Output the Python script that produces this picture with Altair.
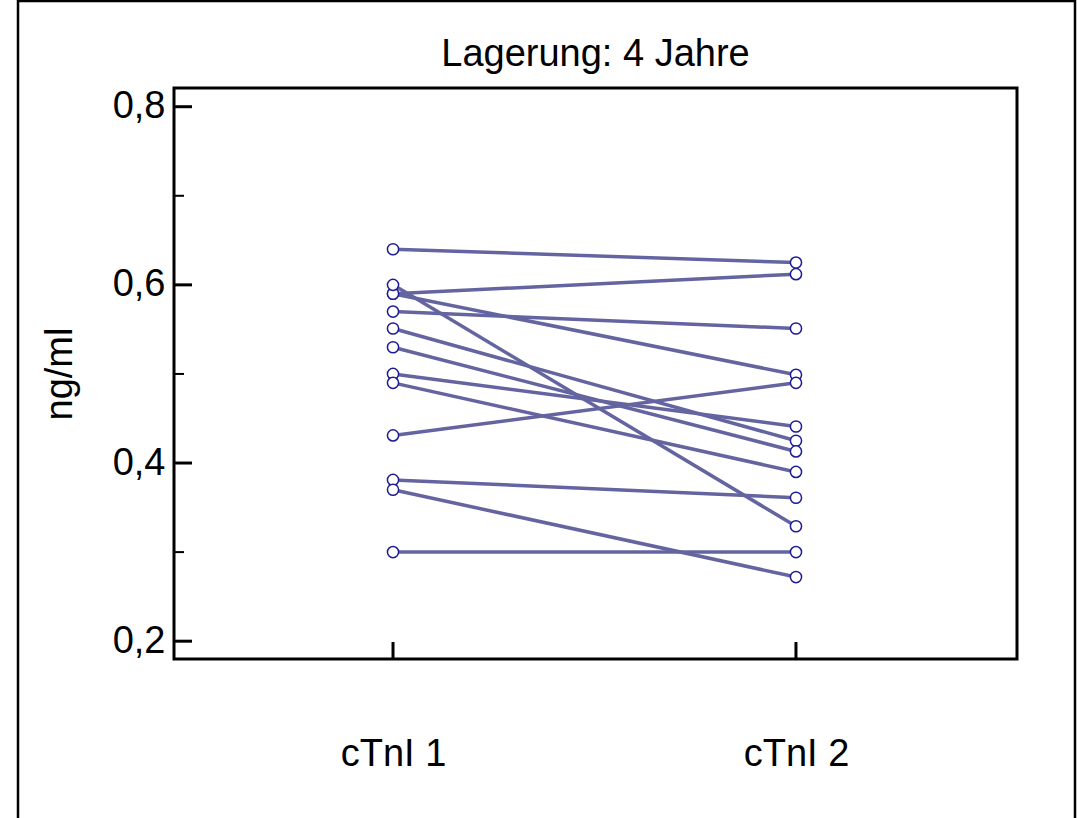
import altair as alt
import pandas as pd

# Paired cTnI measurements (ng/ml): first and second determination per sample
ctni_1 = [0.640, 0.590, 0.590, 0.600, 0.570, 0.551, 0.530, 0.500, 0.490, 0.431, 0.381, 0.370, 0.300]
ctni_2 = [0.625, 0.612, 0.499, 0.329, 0.551, 0.425, 0.413, 0.441, 0.390, 0.490, 0.361, 0.272, 0.300]

groups = ["cTnI 1", "cTnI 2"]
group_pos = [1, 2]

y_major = [0.2, 0.4, 0.6, 0.8]
y_minor = [0.3, 0.5, 0.7]

title_text = "Lagerung: 4 Jahre"

rows = []
for i, (a, b) in enumerate(zip(ctni_1, ctni_2)):
    rows.append({"sample": i, "pos": group_pos[0], "value": a})
    rows.append({"sample": i, "pos": group_pos[1], "value": b})
df = pd.DataFrame(rows)

W, H = 843, 571
FONT = "Liberation Sans"
FS = 38

xscale = alt.Scale(domain=[0.4565, 2.5485], nice=False, zero=False)
yscale = alt.Scale(domain=[0.180, 0.821], nice=False, zero=False)

label_map = "{" + ",".join(f"'{p}':'{g}'" for p, g in zip(group_pos, groups)) + "}"

x_axis = alt.Axis(
    values=group_pos, labelExpr=f"{label_map}[datum.value]", title=None,
    domain=False, ticks=False, grid=False, labelPadding=76, labelFontSize=FS,
    labelFont=FONT, labelColor="black",
)
y_axis = alt.Axis(
    values=y_major, labelExpr="replace(format(datum.value, '.1f'), '.', ',')",
    title="ng/ml", domain=False, ticks=False, grid=False, labelPadding=9,
    labelFontSize=FS, labelFont=FONT, labelColor="black",
    titleFontSize=FS, titleFont=FONT, titleFontWeight="normal", titleColor="black",
    titlePadding=33,
)

X = alt.X("pos:Q", scale=xscale, axis=x_axis)
Y = alt.Y("value:Q", scale=yscale, axis=y_axis)

lines = alt.Chart(df).mark_line(color="#6464a0", strokeWidth=3.5).encode(
    x=X, y=Y, detail="sample:N",
)

points = alt.Chart(df).mark_point(
    shape="circle", size=125, filled=True, fill="white", stroke="#1c1c96", strokeWidth=1.5, opacity=1
).encode(x=X, y=Y)

# inward-pointing ticks on the y axis
ymaj = alt.Chart(pd.DataFrame({"value": y_major})).mark_rule(color="black", strokeWidth=3).encode(
    y=Y, x=alt.value(0), x2=alt.value(18)
)
ymin = alt.Chart(pd.DataFrame({"value": y_minor})).mark_rule(color="black", strokeWidth=2).encode(
    y=Y, x=alt.value(0), x2=alt.value(10)
)
# inward-pointing ticks on the x axis
xtk = alt.Chart(pd.DataFrame({"pos": group_pos})).mark_rule(color="black", strokeWidth=3).encode(
    x=X, y=alt.value(H), y2=alt.value(H - 17)
)

# figure frame around the whole graphic
frame = alt.Chart(pd.DataFrame({"f": [0]})).mark_rect(
    filled=False, stroke="black", strokeWidth=2.5, clip=False
).encode(
    x=alt.value(-156), x2=alt.value(901), y=alt.value(-87), y2=alt.value(H + 200)
)

# panel heading
heading = alt.Chart(pd.DataFrame({"t": [title_text]})).mark_text(
    font=FONT, fontSize=FS, color="black", align="center", baseline="alphabetic"
).encode(text="t:N", x=alt.value(W / 2), y=alt.value(-22))

chart = alt.layer(frame, lines, points, ymaj, ymin, xtk, heading).properties(
    width=W, height=H,
    background="white",
    padding={"left": 174, "top": 88, "right": 60, "bottom": 159},
    autosize=alt.AutoSizeParams(type="none"),
).configure_view(
    stroke="black", strokeWidth=3
)

chart.save("out.html", embed_options={"renderer": "svg", "actions": False})
